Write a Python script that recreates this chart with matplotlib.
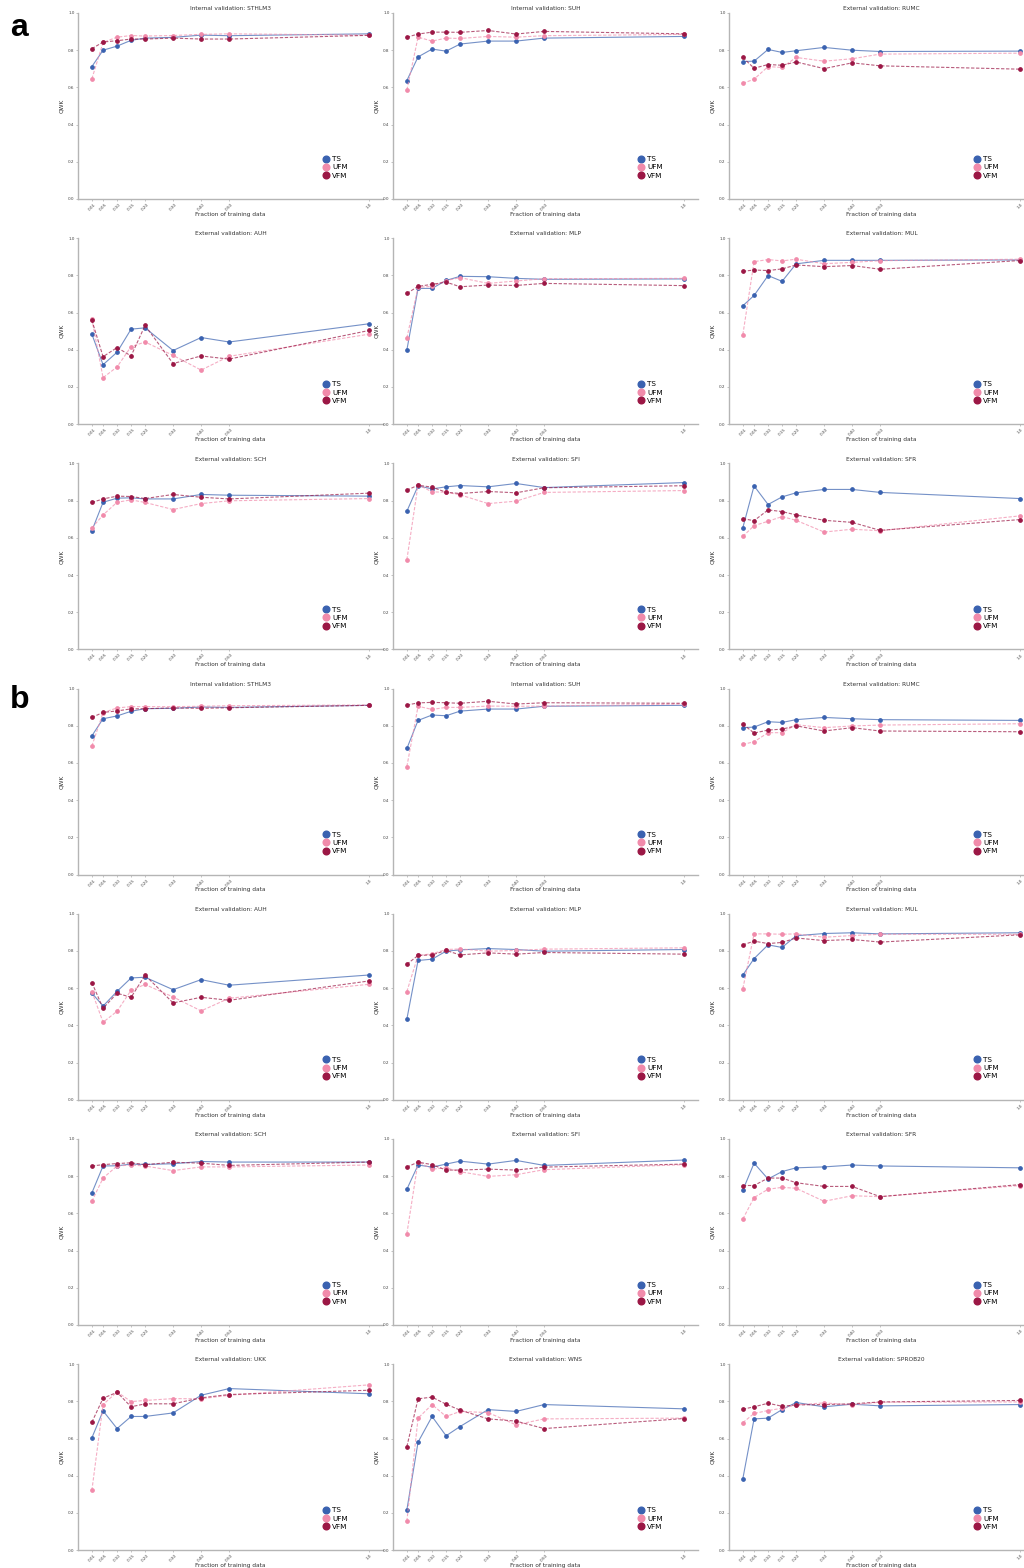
import matplotlib.pyplot as plt
from matplotlib.lines import Line2D

# fraction of the training set used for each run
fractions = [0.01, 0.05, 0.10, 0.15, 0.20, 0.30, 0.40, 0.50, 1.0]
frac_labels = ['0.01', '0.05', '0.10', '0.15', '0.20', '0.30', '0.40', '0.50', '1.0']
models = ['TS', 'UFM', 'VFM']

# ---- panel a ----
titles_a = ['Internal validation: STHLM3', 'Internal validation: SUH', 'External validation: RUMC',
            'External validation: AUH', 'External validation: MLP', 'External validation: MUL',
            'External validation: SCH', 'External validation: SFI', 'External validation: SFR']
ts_a = [
    [0.712, 0.800, 0.822, 0.853, 0.865, 0.869, 0.881, 0.878, 0.888],
    [0.637, 0.764, 0.806, 0.795, 0.833, 0.849, 0.849, 0.865, 0.874],
    [0.739, 0.741, 0.804, 0.788, 0.797, 0.815, 0.800, 0.793, 0.795],
    [0.484, 0.320, 0.387, 0.511, 0.518, 0.396, 0.466, 0.442, 0.540],
    [0.399, 0.730, 0.730, 0.773, 0.795, 0.793, 0.784, 0.779, 0.781],
    [0.637, 0.692, 0.799, 0.768, 0.862, 0.881, 0.881, 0.881, 0.883],
    [0.638, 0.791, 0.813, 0.815, 0.809, 0.809, 0.833, 0.829, 0.824],
    [0.743, 0.879, 0.863, 0.874, 0.881, 0.874, 0.892, 0.870, 0.897],
    [0.655, 0.879, 0.779, 0.820, 0.842, 0.860, 0.860, 0.844, 0.811],
]
ufm_a = [
    [0.646, 0.842, 0.870, 0.879, 0.876, 0.879, 0.885, 0.888, 0.881],
    [0.586, 0.870, 0.849, 0.865, 0.863, 0.874, 0.870, 0.878, 0.885],
    [0.622, 0.644, 0.712, 0.707, 0.761, 0.741, 0.754, 0.779, 0.784],
    [0.565, 0.250, 0.308, 0.417, 0.442, 0.370, 0.291, 0.365, 0.484],
    [0.464, 0.736, 0.741, 0.772, 0.788, 0.757, 0.770, 0.782, 0.784],
    [0.482, 0.874, 0.885, 0.878, 0.887, 0.863, 0.870, 0.879, 0.887],
    [0.653, 0.723, 0.791, 0.804, 0.790, 0.752, 0.784, 0.799, 0.811],
    [0.482, 0.885, 0.847, 0.845, 0.831, 0.784, 0.797, 0.844, 0.854],
    [0.608, 0.665, 0.689, 0.714, 0.694, 0.631, 0.646, 0.638, 0.718],
]
vfm_a = [
    [0.808, 0.844, 0.851, 0.860, 0.860, 0.865, 0.860, 0.860, 0.880],
    [0.870, 0.887, 0.897, 0.897, 0.896, 0.906, 0.887, 0.901, 0.888],
    [0.761, 0.703, 0.723, 0.719, 0.737, 0.701, 0.732, 0.716, 0.698],
    [0.559, 0.363, 0.412, 0.367, 0.531, 0.326, 0.367, 0.350, 0.504],
    [0.703, 0.741, 0.752, 0.764, 0.739, 0.748, 0.746, 0.757, 0.745],
    [0.822, 0.829, 0.826, 0.835, 0.856, 0.847, 0.853, 0.833, 0.880],
    [0.790, 0.809, 0.824, 0.822, 0.811, 0.833, 0.818, 0.809, 0.840],
    [0.856, 0.883, 0.872, 0.845, 0.838, 0.849, 0.842, 0.869, 0.880],
    [0.703, 0.692, 0.750, 0.741, 0.723, 0.694, 0.683, 0.640, 0.698],
]

# ---- panel b ----
titles_b = ['Internal validation: STHLM3', 'Internal validation: SUH', 'External validation: RUMC',
            'External validation: AUH', 'External validation: MLP', 'External validation: MUL',
            'External validation: SCH', 'External validation: SFI', 'External validation: SFR',
            'External validation: UKK', 'External validation: WNS', 'External validation: SPROB20']
ts_b = [
    [0.746, 0.838, 0.853, 0.878, 0.892, 0.894, 0.901, 0.899, 0.910],
    [0.678, 0.829, 0.858, 0.854, 0.879, 0.890, 0.890, 0.905, 0.910],
    [0.790, 0.793, 0.822, 0.818, 0.833, 0.845, 0.838, 0.833, 0.829],
    [0.574, 0.504, 0.583, 0.655, 0.659, 0.592, 0.646, 0.616, 0.671],
    [0.434, 0.749, 0.756, 0.799, 0.806, 0.813, 0.808, 0.799, 0.808],
    [0.671, 0.759, 0.833, 0.819, 0.882, 0.894, 0.898, 0.892, 0.898],
    [0.710, 0.855, 0.856, 0.865, 0.863, 0.867, 0.879, 0.876, 0.876],
    [0.730, 0.860, 0.849, 0.865, 0.881, 0.865, 0.885, 0.858, 0.887],
    [0.725, 0.870, 0.785, 0.825, 0.845, 0.850, 0.860, 0.855, 0.845],
    [0.604, 0.749, 0.654, 0.719, 0.719, 0.738, 0.833, 0.869, 0.841],
    [0.217, 0.581, 0.719, 0.615, 0.665, 0.756, 0.746, 0.783, 0.760],
    [0.385, 0.706, 0.710, 0.756, 0.794, 0.771, 0.785, 0.776, 0.783],
]
ufm_b = [
    [0.691, 0.871, 0.896, 0.903, 0.903, 0.903, 0.905, 0.908, 0.912],
    [0.581, 0.905, 0.888, 0.899, 0.899, 0.906, 0.905, 0.906, 0.917],
    [0.700, 0.714, 0.763, 0.763, 0.806, 0.790, 0.799, 0.804, 0.811],
    [0.582, 0.417, 0.476, 0.589, 0.620, 0.553, 0.478, 0.546, 0.621],
    [0.582, 0.776, 0.785, 0.808, 0.811, 0.799, 0.803, 0.810, 0.817],
    [0.598, 0.892, 0.892, 0.890, 0.892, 0.874, 0.883, 0.890, 0.890],
    [0.665, 0.790, 0.855, 0.860, 0.855, 0.830, 0.850, 0.850, 0.860],
    [0.491, 0.878, 0.838, 0.845, 0.824, 0.799, 0.808, 0.835, 0.862],
    [0.570, 0.685, 0.730, 0.740, 0.735, 0.665, 0.695, 0.690, 0.750],
    [0.321, 0.783, 0.851, 0.799, 0.805, 0.815, 0.814, 0.833, 0.889],
    [0.156, 0.710, 0.783, 0.719, 0.746, 0.740, 0.674, 0.706, 0.710],
    [0.686, 0.735, 0.751, 0.763, 0.781, 0.792, 0.781, 0.796, 0.797],
]
vfm_b = [
    [0.845, 0.872, 0.880, 0.891, 0.892, 0.896, 0.894, 0.897, 0.910],
    [0.912, 0.923, 0.926, 0.924, 0.921, 0.932, 0.917, 0.924, 0.921],
    [0.809, 0.761, 0.777, 0.782, 0.800, 0.772, 0.790, 0.772, 0.768],
    [0.630, 0.492, 0.573, 0.551, 0.670, 0.521, 0.551, 0.535, 0.639],
    [0.729, 0.776, 0.779, 0.803, 0.779, 0.790, 0.783, 0.792, 0.783],
    [0.833, 0.853, 0.840, 0.846, 0.870, 0.856, 0.862, 0.848, 0.887],
    [0.855, 0.862, 0.868, 0.872, 0.862, 0.875, 0.870, 0.858, 0.876],
    [0.849, 0.876, 0.862, 0.833, 0.833, 0.838, 0.833, 0.849, 0.865],
    [0.750, 0.750, 0.790, 0.790, 0.765, 0.745, 0.745, 0.690, 0.755],
    [0.688, 0.817, 0.849, 0.771, 0.787, 0.787, 0.819, 0.837, 0.860],
    [0.557, 0.814, 0.823, 0.785, 0.753, 0.706, 0.694, 0.654, 0.708],
    [0.758, 0.771, 0.790, 0.774, 0.781, 0.783, 0.787, 0.797, 0.805],
]

colors = {'TS': '#3a62b0', 'UFM': '#f18bab', 'VFM': '#9b1745'}
styles = {'TS': '-', 'UFM': (0, (3, 1.5)), 'VFM': (0, (3, 1.5))}

W, H = 1024, 1568
fig = plt.figure(figsize=(W / 100, H / 100), dpi=100)
plt.rcParams['font.family'] = 'DejaVu Sans'

col_left = [78, 393, 729]
ax_w, ax_h = 305, 186
row_top = [13 + 225.2 * i for i in range(7)]


def draw_panel(row, col, title, ts, ufm, vfm):
    ax = fig.add_axes([col_left[col] / W, 1 - (row_top[row] + ax_h) / H, ax_w / W, ax_h / H])
    for name, vals in zip(models, [ts, ufm, vfm]):
        c = colors[name]
        ax.plot(fractions, vals, color=c, ls=styles[name], lw=0.8, alpha=0.7)
        ax.plot(fractions, vals, color=c, ls='', marker='o', markersize=2.4)
    ax.set_ylim(0, 1)
    ax.set_xlim(-0.0395, 1.0495)
    ax.set_xticks(fractions)
    ax.set_xticklabels(frac_labels, rotation=45, fontsize=3)
    ax.set_yticks([0, 0.2, 0.4, 0.6, 0.8, 1.0])
    ax.set_yticklabels(['0.0', '0.2', '0.4', '0.6', '0.8', '1.0'], fontsize=3)
    ax.tick_params(length=1.5, width=0.5, color='#aaaaaa', pad=1, labelcolor='#444444')
    for s in ['top', 'right']:
        ax.spines[s].set_visible(False)
    for s in ['left', 'bottom']:
        ax.spines[s].set_color('#b5b5b5')
        ax.spines[s].set_linewidth(1.0)
    ax.set_title(title, fontsize=4.2, pad=2, color='#333333')
    ax.set_xlabel('Fraction of training data', fontsize=4.2, labelpad=0, color='#333333')
    ax.set_ylabel('QWK', fontsize=4.2, labelpad=3, color='#333333')
    handles = [Line2D([], [], ls='', marker='o', color=colors[m], markersize=4.8) for m in models]
    ax.legend(handles, models, loc='center left', bbox_to_anchor=(0.79, 0.17), frameon=False,
              fontsize=5.2, handlelength=1.0, handletextpad=0.3, labelspacing=0.3, borderpad=0)


for i, title in enumerate(titles_a):
    draw_panel(i // 3, i % 3, title, ts_a[i], ufm_a[i], vfm_a[i])
for i, title in enumerate(titles_b):
    draw_panel(3 + i // 3, i % 3, title, ts_b[i], ufm_b[i], vfm_b[i])

fig.text(10 / W, 1 - 36 / H, 'a', fontsize=23, fontweight='bold', family='Liberation Sans')
fig.text(10 / W, 1 - 708 / H, 'b', fontsize=23, fontweight='bold', family='Liberation Sans')

fig.savefig('out.png', dpi=100)
